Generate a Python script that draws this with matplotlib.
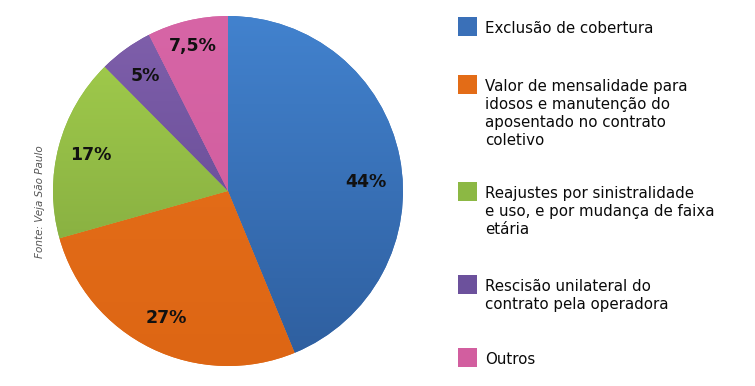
import matplotlib
matplotlib.use("Agg")
import matplotlib.pyplot as plt
import numpy as np
from matplotlib.colors import LinearSegmentedColormap
from matplotlib.patches import Rectangle

# data
categories = [
    "Exclusão de cobertura",
    "Valor de mensalidade para\nidosos e manutenção do\naposentado no contrato\ncoletivo",
    "Reajustes por sinistralidade\ne uso, e por mudança de faixa\netária",
    "Rescisão unilateral do\ncontrato pela operadora",
    "Outros",
]
values = [44, 27, 17, 5, 7.5]
pct_labels = ["44%", "27%", "17%", "5%", "7,5%"]

# (top, bottom) colours of each slice gradient
colors_top = ["#4282CE", "#E8711B", "#A4CF4D", "#8060AC", "#D765A6"]
colors_bot = ["#2E5E9E", "#DD6614", "#7BA13C", "#5B438B", "#CE5A9A"]
colors = ["#3A70B8", "#E36C17", "#8CB844", "#6C519C", "#D25E9F"]

W, H = 755, 386
fig = plt.figure(figsize=(W / 100, H / 100), dpi=100)

# pie axes: circle spans x 53..403, y 16..366 px
ax = fig.add_axes([53 / W, (H - 366) / H, 350 / W, 350 / H])
wedges, texts = ax.pie(values, labels=pct_labels, colors=colors,
                       startangle=90, counterclock=False,
                       labeldistance=0.81, radius=1.0,
                       wedgeprops=dict(linewidth=0),
                       textprops=dict(ha="center", va="center",
                                      fontsize=12.5, fontweight="bold",
                                      color="#111111"))
ax.set_xlim(-1, 1)
ax.set_ylim(-1, 1)
ax.set_aspect("equal")
ax.axis("off")

# nudge two labels to where the reference has them
texts[0].set_position((0.79, 0.05))
texts[4].set_position((-0.2, 0.83))

grad = np.linspace(1, 0, 256).reshape(-1, 1)
for w, ct, cb in zip(wedges, colors_top, colors_bot):
    cmap = LinearSegmentedColormap.from_list("g", [cb, ct])
    im = ax.imshow(grad, cmap=cmap, extent=[-1, 1, -1, 1], aspect="auto",
                   interpolation="bilinear", zorder=w.get_zorder() + 0.1)
    im.set_clip_path(w)
for t in texts:
    t.set_zorder(5)

# source note
fig.text(40 / W, 1 - 202 / H, "Fonte: Veja São Paulo", rotation=90,
         ha="center", va="center", fontsize=7.5, style="italic",
         color="#555555")

# legend
square_top = [17, 75, 182, 275, 348]
line_step = 18
for cat, c, top in zip(categories, colors, square_top):
    fig.patches.append(Rectangle((458 / W, 1 - (top + 19) / H), 19 / W, 19 / H,
                                 transform=fig.transFigure, facecolor=c,
                                 edgecolor="none"))
    for i, line in enumerate(cat.split("\n")):
        fig.text(485 / W, 1 - (top + 16 + i * line_step) / H, line,
                 ha="left", va="baseline", fontsize=10.8, color="#0a0a0a")

fig.savefig("out.png", dpi=100)
